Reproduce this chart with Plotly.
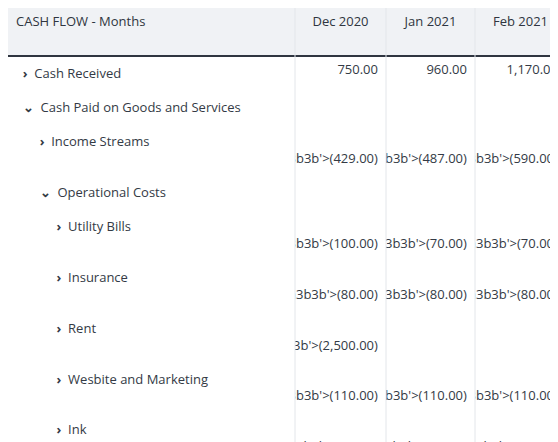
import plotly.graph_objects as go

NB = "\u00a0"
labels = ["Cash Received", "Cash Paid on Goods and Services", "Income Streams", "Operational Costs",
          "Utility Bills", "Insurance", "Rent", "Wesbite and Marketing", "Ink",
          "Total of Operational Costs", "Total of Cash Paid on Goods and Services",
          "Employee Costs Paid", "Interest Paid", "Operating Activities"]
levels = [0, 0, 1, 1, 2, 2, 2, 2, 2, 2, 1, 1, 1, 1]
arrows = ["r", "d", "r", "d", "r", "r", "r", "r", "r", "", "", "", "", ""]
bold = [False]*9 + [True, True, False, False, True]
shaded = [False]*10 + [True, False, False, True]
months = ["Dec 2020", "Jan 2021", "Feb 2021"]
dec = [750, None, -429, None, -100, -80, -2500, -110, -30, -2820, -3249, None, None, -2499]
jan = [960, None, -487, None, -70, -80, None, -110, -30, -290, -777, None, None, 183]
feb = [1170, None, -590, None, -70, -80, None, -110, -30, -290, -880, None, None, 290]

def fmt(v, b):
    if v is None:
        return ""
    s = f"{abs(v):,.2f}"
    if v < 0:
        s = f"<span style='color:#8a3b3b'>({s})</span>"
    return f"<b>{s}</b>" if b else s

col0 = []
for lab, lv, ar, b in zip(labels, levels, arrows, bold):
    pad = NB * (2 + 5 * lv)
    if ar == "r":
        t = pad + "<b>›</b>" + NB*2 + lab
    elif ar == "d":
        t = pad + "<b>⌄</b>" + NB*2 + lab
    else:
        t = pad + NB*4 + (f"<b>{lab}</b>" if b else lab)
        if not b:
            t = NB*2 + (NB*3 if lv else "") + lab
    col0.append(t)
# fix indentation for non-arrow rows
col0[9] = NB*10 + "<b>Total of Operational Costs</b>"
col0[10] = NB*7 + "<b>Total of Cash Paid on Goods and Services</b>"
col0[11] = NB*7 + "Employee Costs Paid"
col0[12] = NB*7 + "Interest Paid"
col0[13] = NB*7 + "<b>Operating Activities</b>"

cols = [col0] + [[fmt(v, b) for v, b in zip(s, bold)] for s in (dec, jan, feb)]
fills = ["#eef1f5" if s else "white" for s in shaded]

fig = go.Figure(go.Table(
    columnwidth=[287, 91, 89, 91],
    header=dict(values=["<b>CASH FLOW - Months</b>".replace("<b>", "").replace("</b>", "")] + months,
                align=["left", "center"], height=48, fill_color="#f0f2f5",
                line=dict(width=0, color="#f0f2f5"),
                font=dict(family="Open Sans", size=13, color="#2f3540")),
    cells=dict(values=cols, align=["left", "right"], height=28,
               fill_color=[fills]*4, line=dict(width=0, color="white"),
               font=dict(family="Open Sans", size=13, color="#333a45")),
))
shapes = [dict(type="line", xref="paper", yref="paper", x0=0, x1=1,
               y0=1-48/442, y1=1-48/442, line=dict(color="#2f3540", width=2))]
for x in (287, 378, 467):
    shapes.append(dict(type="line", xref="paper", yref="paper", x0=x/558, x1=x/558,
                       y0=0, y1=1, line=dict(color="#e3e6ea", width=1)))
fig.update_layout(width=558, height=442, margin=dict(l=0, r=0, t=0, b=0),
                  paper_bgcolor="white", shapes=shapes)
fig.write_html("out.html")
